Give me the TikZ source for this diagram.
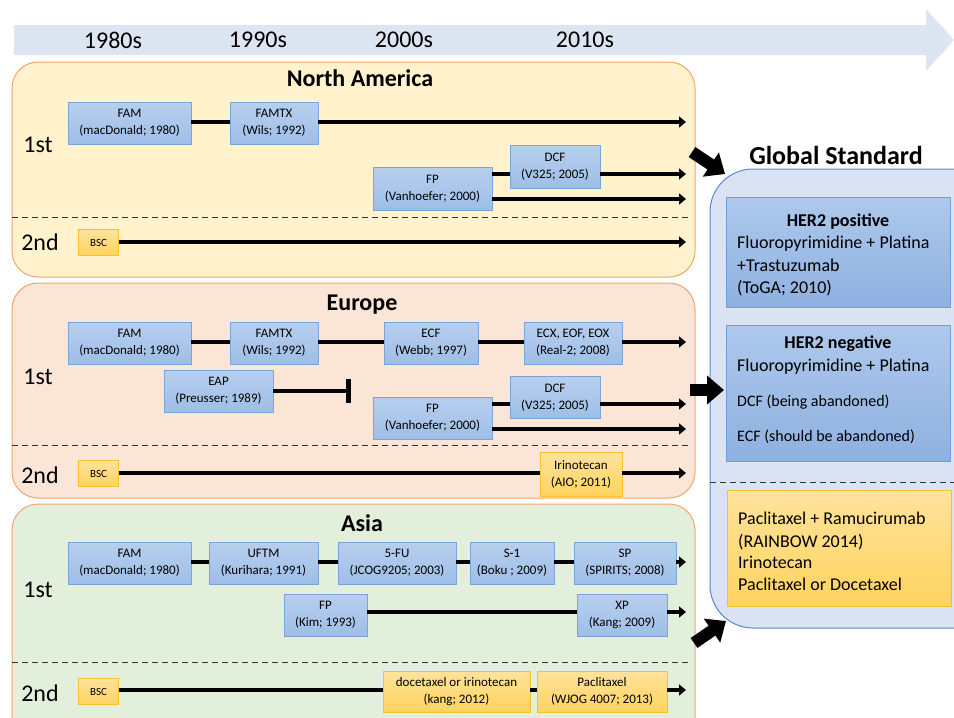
\documentclass[tikz,border=0pt]{standalone}
\usepackage{fontspec}
\setmainfont{Carlito}
\usetikzlibrary{arrows.meta,calc}
\definecolor{timeline}{HTML}{DCE6F2}
\definecolor{nafill}{HTML}{FFF2CC}
\definecolor{eufill}{HTML}{FBE5D6}
\definecolor{asfill}{HTML}{E2EFDA}
\definecolor{panelborder}{HTML}{F4A46C}
\definecolor{gsfill}{HTML}{DAE3F3}
\definecolor{gsborder}{HTML}{5587D6}
\definecolor{btop}{HTML}{B7CFEE}
\definecolor{bbot}{HTML}{9EBEE7}
\definecolor{bdraw}{HTML}{7BA4D9}
\definecolor{ytop}{HTML}{FFE39C}
\definecolor{ybot}{HTML}{FFD35E}
\definecolor{ydraw}{HTML}{F8C030}
\definecolor{gtop}{HTML}{ADC8EC}
\definecolor{gbot}{HTML}{8FB1E0}
\definecolor{gdraw}{HTML}{6E9DD8}
\begin{document}
\begin{tikzpicture}[x=1pt,y=-1pt,
  panel/.style={draw=panelborder, line width=1pt, rounded corners=26pt},
  bbox/.style={draw=bdraw, line width=0.8pt, top color=btop, bottom color=bbot, align=center, inner sep=0pt, minimum height=42pt, font=\fontsize{13}{17}\selectfont},
  ybox/.style={bbox, draw=ydraw, top color=ytop, bottom color=ybot},
  bscbox/.style={ybox, minimum width=40pt, minimum height=26pt, font=\fontsize{11}{13}\selectfont},
  gbox/.style={draw=gdraw, line width=0.8pt, top color=gtop, bottom color=gbot, minimum width=224pt, inner sep=0pt},
  gyel/.style={draw=ydraw, line width=0.8pt, top color=ytop, bottom color=ybot, minimum width=224pt, inner sep=0pt},
  conn/.style={line width=4.5pt, -{Triangle[length=7pt,width=11pt]}},
  plain/.style={line width=4.5pt},
  sep/.style={dash pattern=on 6pt off 4pt, line width=0.9pt, draw=black!80},
  big/.style={font=\fontsize{24}{28}\selectfont},
  ttl/.style={font=\bfseries\fontsize{24}{28}\selectfont},
  gtxt/.style={anchor=base west, inner sep=0pt, font=\fontsize{18}{22}\selectfont},
  gsm/.style={anchor=base west, inner sep=0pt, font=\fontsize{16}{20}\selectfont},
  ghead/.style={anchor=base, inner sep=0pt, font=\bfseries\fontsize{18}{22}\selectfont},
  blk/.style={line width=12pt, -{Triangle[length=17pt,width=28pt]}},
]
\useasboundingbox (0,0) rectangle (954,718);
\clip (0,0) rectangle (954,718);

% timeline
\fill[timeline] (14,25) -- (926,25) -- (926,9) -- (954,40) -- (926,71) -- (926,55) -- (14,55) -- cycle;
\node[big] (y80) at (113,40) {1980s};
\node[big] (y90) at (258,40) {1990s};
\node[big] (y00) at (404,40) {2000s};
\node[big] (y10) at (585,40) {2010s};

% panels
\draw[panel, fill=nafill] (12,62) rectangle (695,277);
\draw[panel, fill=eufill] (12,283) rectangle (695,498);
\draw[panel, fill=asfill] (12,504) rectangle (695,745);
\draw[draw=gsborder, line width=1pt, fill=gsfill, rounded corners=43pt] (710,169) rectangle (1010,628);

% ---------------- North America
\node[ttl] (natitle) at (360,78) {North America};
\node[big] (na1st) at (38,145) {1st};
\node[big] (na2nd) at (40,242) {2nd};
\node[bbox, minimum width=123pt] (fam1) at (129.5,123) {FAM\\(macDonald; 1980)};
\node[bbox, minimum width=88pt] (famtx1) at (274,123) {FAMTX\\(Wils; 1992)};
\node[bbox, minimum width=90pt, minimum height=43pt] (dcf1) at (555,166.5) {DCF\\(V325; 2005)};
\node[bbox, minimum width=119pt, minimum height=43pt] (fp1) at (432.5,188.5) {FP\\(Vanhoefer; 2000)};
\node[bscbox] (bsc1) at (98.5,242.5) {BSC};
\coordinate (na1e) at (686,122);
\coordinate (na2e) at (686,174);
\coordinate (na3e) at (686,199);
\coordinate (na4e) at (686,242);
\draw[plain] (fam1.east |- na1e) -- (famtx1.west |- na1e);
\draw[conn] (famtx1.east |- na1e) -- (na1e);
\draw[plain] (fp1.east |- na2e) -- (dcf1.west |- na2e);
\draw[conn] (dcf1.east |- na2e) -- (na2e);
\draw[conn] (fp1.east |- na3e) -- (na3e);
\draw[conn] (bsc1.east |- na4e) -- (na4e);
\draw[sep] (12,217) -- (688,217);

% ---------------- Europe
\node[ttl] (eutitle) at (362,305) {Europe};
\node[big] (eu1st) at (38,377) {1st};
\node[big] (eu2nd) at (40,475) {2nd};
\node[bbox, minimum width=123pt] (fam2) at (129.5,343) {FAM\\(macDonald; 1980)};
\node[bbox, minimum width=88pt] (famtx2) at (274,343) {FAMTX\\(Wils; 1992)};
\node[bbox, minimum width=94pt] (ecf2) at (431,343) {ECF\\(Webb; 1997)};
\node[bbox, minimum width=98pt] (ecx2) at (573,343) {ECX, EOF, EOX\\(Real-2; 2008)};
\node[bbox, minimum width=109pt] (eap2) at (218.5,391) {EAP\\(Preusser; 1989)};
\node[bbox, minimum width=90pt] (dcf2) at (555,397.5) {DCF\\(V325; 2005)};
\node[bbox, minimum width=119pt] (fp2) at (432.5,418) {FP\\(Vanhoefer; 2000)};
\node[bscbox] (bsc2) at (98.5,473.5) {BSC};
\node[ybox, minimum width=82pt, minimum height=44pt] (iri2) at (581,474) {Irinotecan\\(AIO; 2011)};
\coordinate (eu1e) at (686,342);
\coordinate (eapend) at (348,391);
\coordinate (eu2e) at (686,404);
\coordinate (eu3e) at (686,429);
\coordinate (eu4e) at (686,473);
\draw[plain] (fam2.east |- eu1e) -- (famtx2.west |- eu1e);
\draw[plain] (famtx2.east |- eu1e) -- (ecf2.west |- eu1e);
\draw[plain] (ecf2.east |- eu1e) -- (ecx2.west |- eu1e);
\draw[conn] (ecx2.east |- eu1e) -- (eu1e);
\draw[plain] (eap2.east |- eapend) -- (eapend);
\draw[line width=5pt] ([yshift=12pt]eapend) -- ([yshift=-12pt]eapend);
\draw[plain] (fp2.east |- eu2e) -- (dcf2.west |- eu2e);
\draw[conn] (dcf2.east |- eu2e) -- (eu2e);
\draw[conn] (fp2.east |- eu3e) -- (eu3e);
\draw[plain] (bsc2.east |- eu4e) -- (iri2.west |- eu4e);
\draw[conn] (iri2.east |- eu4e) -- (eu4e);
\draw[sep] (12,445) -- (688,445);

% ---------------- Asia
\node[ttl] (astitle) at (362,523) {Asia};
\node[big] (as1st) at (38,590) {1st};
\node[big] (as2nd) at (40,693) {2nd};
\node[bbox, minimum width=123pt] (fam3) at (129.5,563) {FAM\\(macDonald; 1980)};
\node[bbox, minimum width=109pt] (uftm3) at (263.5,563) {UFTM\\(Kurihara; 1991)};
\node[bbox, minimum width=118pt] (fu3) at (397,563) {5-FU\\(JCOG9205; 2003)};
\node[bbox, minimum width=84pt] (s13) at (512,563) {S-1\\(Boku ; 2009)};
\node[bbox, minimum width=102pt] (sp3) at (625,563) {SP\\(SPIRITS; 2008)};
\node[bbox, minimum width=83pt] (fp3) at (325.5,615) {FP\\(Kim; 1993)};
\node[bbox, minimum width=90pt] (xp3) at (622,615) {XP\\(Kang; 2009)};
\node[bscbox] (bsc3) at (98.5,691.5) {BSC};
\node[ybox, minimum width=147pt, minimum height=41pt] (doc3) at (456.5,691.5) {docetaxel or irinotecan\\(kang; 2012)};
\node[ybox, minimum width=130pt, minimum height=41pt] (pac3) at (602,691.5) {Paclitaxel\\(WJOG 4007; 2013)};
\coordinate (as1e) at (686,562);
\coordinate (as2e) at (686,612);
\coordinate (as3e) at (686,690);
\draw[plain] (fam3.east |- as1e) -- (uftm3.west |- as1e);
\draw[plain] (uftm3.east |- as1e) -- (fu3.west |- as1e);
\draw[plain] (fu3.east |- as1e) -- (s13.west |- as1e);
\draw[plain] (s13.east |- as1e) -- (sp3.west |- as1e);
\draw[conn] (sp3.east |- as1e) -- (as1e);
\draw[plain] (fp3.east |- as2e) -- (xp3.west |- as2e);
\draw[conn] (xp3.east |- as2e) -- (as2e);
\draw[plain] (bsc3.east |- as3e) -- (doc3.west |- as3e);
\draw[plain] (doc3.east |- as3e) -- (pac3.west |- as3e);
\draw[conn] (pac3.east |- as3e) -- (as3e);
\draw[sep] (12,662) -- (688,662);

% ---------------- Global standard
\node[font=\bfseries\fontsize{26}{30}\selectfont] (gstitle) at (836,155) {Global Standard};
\node[gbox, minimum height=110pt] (her2p) at (838,252) {};
\node[gbox, minimum height=136pt] (her2n) at (838,393) {};
\node[gyel, minimum height=116pt] (second) at (839,548) {};
\draw[sep] (710,482) -- (954,482);

\node[ghead] (hp0) at (838,226) {HER2 positive};
\node[gtxt] (hp1) at (737,248) {Fluoropyrimidine + Platina};
\node[gtxt] (hp2) at (737,271) {+Trastuzumab};
\node[gtxt] (hp3) at (737,293) {(ToGA; 2010)};

\node[ghead] (hn0) at (838,348) {HER2 negative};
\node[gtxt] (hn1) at (737,371) {Fluoropyrimidine + Platina};
\node[gsm] (hn2) at (737,406) {DCF (being abandoned)};
\node[gsm] (hn3) at (737,441) {ECF (should be abandoned)};

\node[gtxt] (sl1) at (738,524) {Paclitaxel + Ramucirumab};
\node[gtxt] (sl2) at (738,547) {(RAINBOW 2014)};
\node[gtxt] (sl3) at (738,568) {Irinotecan};
\node[gtxt] (sl4) at (738,590) {Paclitaxel or Docetaxel};

% big arrows
\coordinate (ba1s) at (692,152);
\coordinate (ba1e) at (725,174);
\coordinate (ba2s) at (690,390);
\coordinate (ba2e) at (724,390);
\coordinate (ba3s) at (694,643);
\coordinate (ba3e) at (726,621);
\draw[blk] (ba1s) -- (ba1e);
\draw[blk] (ba2s) -- (ba2e);
\draw[blk] (ba3s) -- (ba3e);
\end{tikzpicture}
\end{document}
